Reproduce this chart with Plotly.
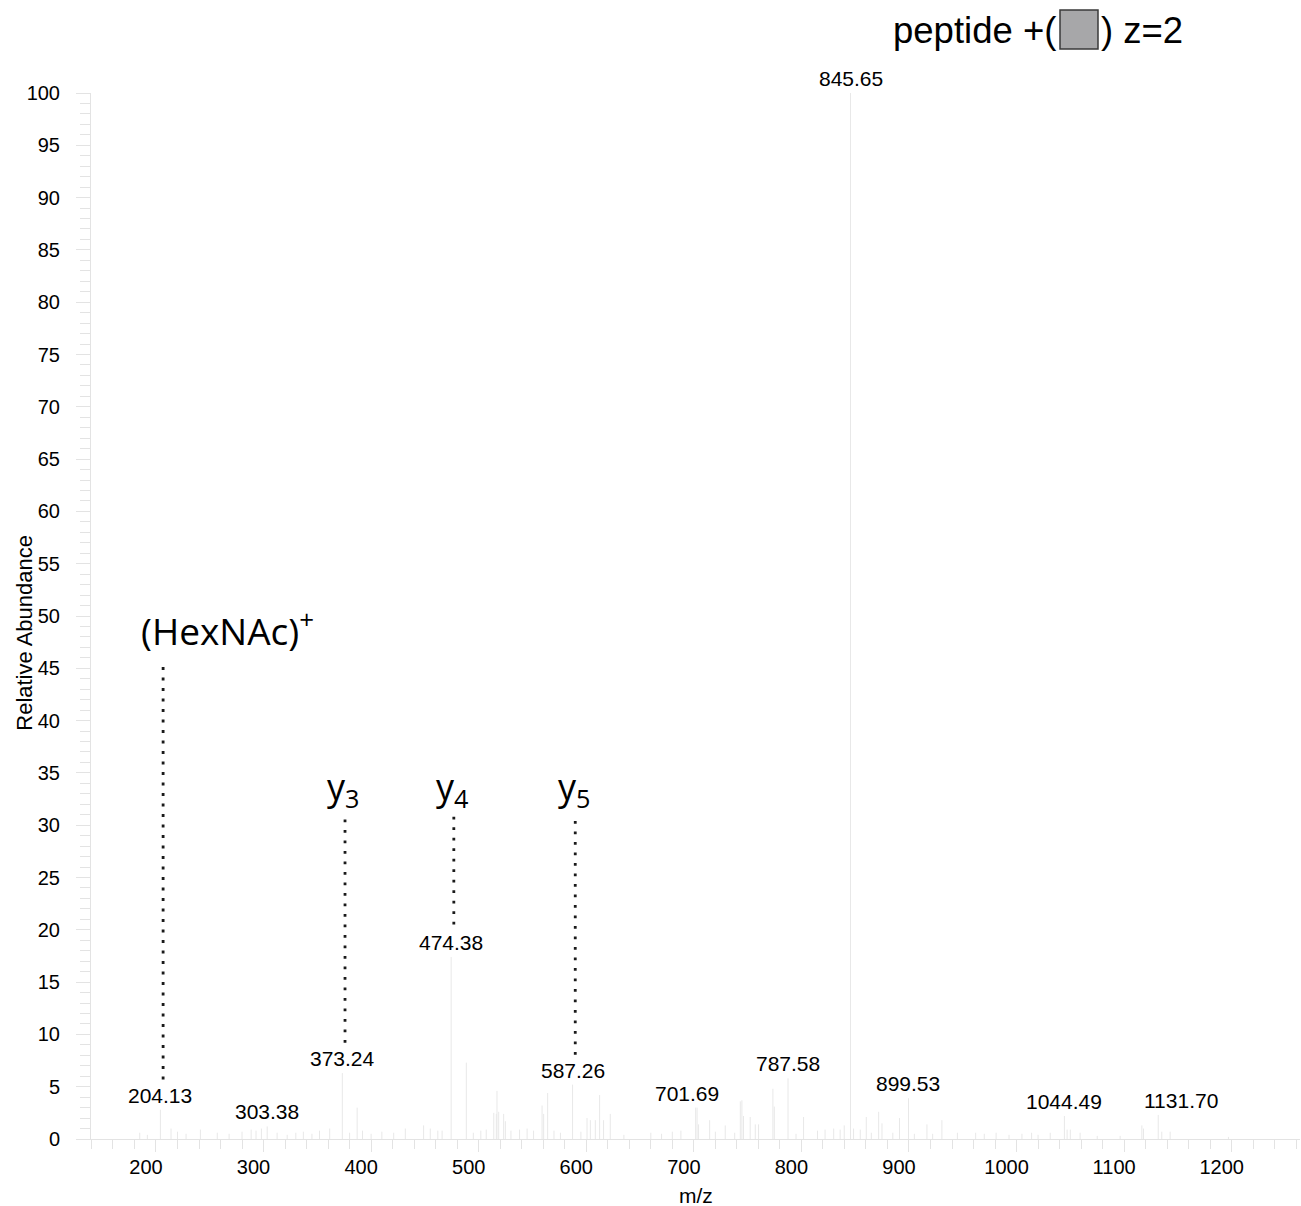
import plotly.graph_objects as go

# ---------------- data ----------------
peak_mz = [184.9, 192.0, 204.13, 214.0, 220.0, 228.0, 241.3, 257.0, 268.0, 280.0, 288.5, 293.0,
           298.0, 303.38, 312.6, 322.0, 330.0, 337.0, 345.0, 352.0, 361.5, 373.24, 380.0, 387.0,
           392.0, 400.0, 410.0, 421.0, 431.8, 448.8, 455.0, 462.0, 466.0, 474.38, 488.5, 495.0,
           502.0, 507.0, 514.0, 516.4, 517.0, 518.6, 523.2, 524.8, 530.0, 538.0, 545.0, 551.0,
           558.9, 560.4, 564.1, 570.0, 576.0, 587.26, 595.0, 600.7, 603.8, 608.4, 612.4, 616.1,
           622.3, 635.0, 660.0, 670.0, 680.0, 688.0, 701.69, 703.0, 704.4, 714.7, 720.0, 729.2,
           738.0, 743.2, 744.7, 746.2, 752.4, 757.1, 760.2, 773.5, 774.8, 787.58, 795.0, 802.0,
           815.0, 822.0, 830.0, 836.0, 839.8, 845.65, 848.5, 854.7, 860.3, 865.0, 871.8, 874.9,
           885.0, 891.2, 899.53, 905.0, 916.7, 922.0, 930.6, 945.0, 962.0, 970.0, 981.0, 993.0,
           1005.0, 1014.0, 1020.0, 1031.3, 1044.49, 1047.0, 1050.0, 1059.1, 1075.0, 1096.3,
           1116.5, 1118.0, 1131.70, 1135.0, 1142.8, 1197.0]
peak_int = [0.6, 0.4, 2.8, 1.0, 0.7, 0.5, 0.9, 0.6, 0.5, 0.7, 0.9, 0.8,
            1.0, 1.2, 0.6, 0.4, 0.6, 0.7, 0.5, 0.8, 1.0, 6.3, 0.6, 3.0,
            0.8, 0.5, 0.7, 0.6, 1.0, 1.3, 1.0, 0.8, 0.8, 17.4, 7.3, 0.6,
            0.8, 0.9, 2.5, 2.4, 4.6, 2.6, 2.4, 1.7, 0.8, 0.9, 1.0, 0.8,
            3.2, 2.4, 4.4, 0.8, 0.6, 5.2, 0.7, 2.0, 1.8, 1.8, 4.2, 1.8,
            2.4, 0.4, 0.6, 0.5, 0.7, 0.8, 3.0, 3.0, 1.4, 1.8, 0.7, 1.3,
            0.6, 3.6, 3.7, 2.2, 2.1, 1.4, 1.4, 4.8, 3.1, 5.8, 0.5, 2.1,
            0.8, 0.9, 1.0, 0.9, 1.3, 100.0, 1.0, 0.9, 2.1, 0.6, 2.6, 1.5,
            0.6, 2.0, 3.9, 0.5, 1.4, 0.5, 1.8, 0.6, 0.6, 0.5, 0.6, 0.4,
            0.5, 0.6, 0.4, 0.6, 2.2, 0.9, 0.9, 0.6, 0.3, 0.3,
            1.3, 1.0, 2.3, 0.7, 0.7, 0.2]

label_mz = [204.13, 303.38, 373.24, 474.38, 587.26, 701.69, 787.58, 845.65, 899.53, 1044.49, 1131.70]

ion_names = ["(HexNAc)<sup>+</sup>", "y<sub>3</sub>", "y<sub>4</sub>", "y<sub>5</sub>"]
ion_mz = [204.13, 373.24, 474.38, 587.26]
ion_line_top = [45.7, 30.8, 30.8, 30.8]
ion_line_bottom = [5.7, 9.2, 20.5, 8.05]
ion_text_y = [48.8, 33.5, 33.5, 33.5]

x_ticks = [200, 300, 400, 500, 600, 700, 800, 900, 1000, 1100, 1200]
y_ticks = list(range(0, 101, 5))

# ---------------- figure ----------------
FONT = "Liberation Sans, Arial, sans-serif"
LABEL_FONT = "Open Sans, Lato, sans-serif"
AXIS_GREY = "#e3e3e3"
PEAK_GREY = "#e8e8e8"

xs, ys = [], []
for m, v in zip(peak_mz, peak_int):
    xs += [m, m, None]
    ys += [0, v, None]

fig = go.Figure()
fig.add_trace(go.Scatter(x=xs, y=ys, mode="lines", line=dict(color=PEAK_GREY, width=1),
                         hoverinfo="skip", showlegend=False))

for name, m, top, bot in zip(ion_names, ion_mz, ion_line_top, ion_line_bottom):
    fig.add_trace(go.Scatter(x=[m + 2.5, m + 2.5], y=[bot, top], mode="lines",
                             line=dict(color="#1a1a1a", width=2.8, dash="2.8px,7.7px"),
                             hoverinfo="skip", showlegend=False))

annotations = []
label_shift = {701.69: -9, 1131.70: 23}
for m in label_mz:
    v = peak_int[peak_mz.index(m)]
    annotations.append(dict(x=m, y=v, xref="x", yref="y", text=f"{m:.2f}", showarrow=False,
                            xanchor="center", yanchor="bottom", yshift=1,
                            xshift=label_shift.get(m, 0),
                            font=dict(family=FONT, size=21, color="#000")))

for i, (name, m, ty) in enumerate(zip(ion_names, ion_mz, ion_text_y)):
    if i == 0:
        annotations.append(dict(x=m, y=ty, xref="x", yref="y", text=name, showarrow=False,
                                xanchor="left", yanchor="middle", xshift=-21,
                                font=dict(family=LABEL_FONT, size=37, color="#000")))
    else:
        annotations.append(dict(x=m, y=ty, xref="x", yref="y", text=name, showarrow=False,
                                xanchor="center", yanchor="middle", xshift=1,
                                font=dict(family=LABEL_FONT, size=36, color="#000")))

# axis titles
annotations.append(dict(x=0.5, y=0, xref="paper", yref="paper", text="m/z", showarrow=False,
                        xanchor="center", yanchor="middle", yshift=-56,
                        font=dict(family=FONT, size=21, color="#000")))
annotations.append(dict(x=0, y=0.484, xref="paper", yref="paper", text="Relative Abundance",
                        showarrow=False, textangle=-90, xanchor="center", yanchor="middle",
                        xshift=-66, font=dict(family=FONT, size=22, color="#000")))

# header
annotations.append(dict(x=(1058 - 91) / 1209, y=1 + (93 - 30) / 1046, xref="paper", yref="paper",
                        text="peptide +(", showarrow=False, xanchor="right", yanchor="middle",
                        font=dict(family=FONT, size=36.5, color="#000")))
annotations.append(dict(x=(1099 - 91) / 1209, y=1 + (93 - 30) / 1046, xref="paper", yref="paper",
                        text=") z=2", showarrow=False, xanchor="left", yanchor="middle",
                        font=dict(family=FONT, size=36.5, color="#000")))

shapes = [dict(type="rect", xref="paper", yref="paper",
               x0=(1060 - 91) / 1209, x1=(1098 - 91) / 1209,
               y0=1 + (93 - 49) / 1046, y1=1 + (93 - 10) / 1046,
               fillcolor="#a7a7a9", line=dict(color="#3a3a3a", width=1.5))]

fig.update_layout(
    width=1301, height=1206,
    margin=dict(l=91, r=1, t=93, b=67),
    paper_bgcolor="white", plot_bgcolor="white",
    showlegend=False,
    annotations=annotations, shapes=shapes,
    font=dict(family=FONT, size=20, color="#000"),
)
fig.update_xaxes(range=[139.6, 1263.5], tickvals=x_ticks, ticktext=[str(t) for t in x_ticks],
                 ticks="outside", ticklen=12, tickcolor=AXIS_GREY, tickwidth=1,
                 showline=True, linecolor=AXIS_GREY, linewidth=1, showgrid=False, zeroline=False,
                 ticklabelshift=-10, ticklabelstandoff=-2,
                 tickfont=dict(family=FONT, size=20, color="#000"),
                 minor=dict(dtick=20, tick0=0, ticks="outside", ticklen=9, tickcolor=AXIS_GREY,
                            tickwidth=1, showgrid=False))
fig.update_yaxes(range=[0, 100], tickvals=y_ticks, ticktext=[str(t) for t in y_ticks],
                 ticks="outside", ticklen=14, tickcolor=AXIS_GREY, tickwidth=1,
                 showline=True, linecolor=AXIS_GREY, linewidth=1, showgrid=False, zeroline=False,
                 ticklabelstandoff=12,
                 tickfont=dict(family=FONT, size=20, color="#000"),
                 minor=dict(dtick=1, tick0=0, ticks="outside", ticklen=10, tickcolor=AXIS_GREY,
                            tickwidth=1, showgrid=False))

fig.write_html("out.html")
